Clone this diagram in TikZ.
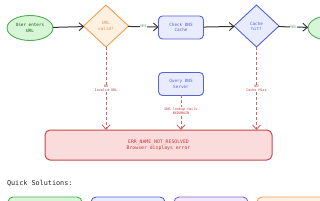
\documentclass[tikz,border=0pt]{standalone}
\usepackage{fontspec}
\setmainfont{DejaVu Sans Mono}
\usetikzlibrary{shapes.geometric,arrows.meta}
\definecolor{gstroke}{HTML}{4CAF50}
\definecolor{gfill}{HTML}{D8F5D8}
\definecolor{ostroke}{HTML}{F0A050}
\definecolor{ofill}{HTML}{FFF1E2}
\definecolor{bstroke}{HTML}{5563D6}
\definecolor{bfill}{HTML}{E9ECFF}
\definecolor{rstroke}{HTML}{C94848}
\definecolor{rfill}{HTML}{FADCDC}
\definecolor{rtext}{HTML}{C03A3A}
\definecolor{pstroke}{HTML}{8A63D2}
\definecolor{pfill}{HTML}{F1EAFF}
\definecolor{arr}{HTML}{333333}
\begin{document}
\begin{tikzpicture}[x=1pt,y=-1pt,
  every node/.style={inner sep=0pt,outer sep=0pt,align=center},
  txt/.style={font=\fontsize{4.3}{5.2}\selectfont},
  startnode/.style={ellipse,draw=gstroke,fill=gfill,line width=0.9pt,minimum width=46pt,minimum height=25pt,txt,text=green!40!black},
  decision/.style={diamond,draw=ostroke,fill=ofill,line width=0.9pt,minimum width=45pt,minimum height=42pt,txt,text=ostroke!90!black},
  bdecision/.style={decision,draw=bstroke,fill=bfill,text=bstroke},
  procbox/.style={rectangle,rounded corners=4pt,draw=bstroke,fill=bfill,line width=0.9pt,minimum width=45pt,minimum height=23pt,txt,text=bstroke},
  errbox/.style={rectangle,rounded corners=5pt,draw=rstroke,fill=rfill,line width=1pt,minimum width=227pt,minimum height=30pt,font=\fontsize{4.8}{6}\selectfont,text=rtext},
  solbox/.style={rectangle,rounded corners=5pt,line width=0.9pt,minimum width=74pt,minimum height=20pt},
  flow/.style={draw=arr,line width=1pt,-{Straight Barb[length=4.5pt,width=8pt,line width=0.9pt]}},
  noflow/.style={draw=rstroke!85!white,line width=0.9pt,dashed,dash pattern=on 3pt off 2pt,-{Straight Barb[length=4.5pt,width=8pt,line width=0.9pt]}},
  lbl/.style={font=\fontsize{3.4}{4}\selectfont,fill=white,inner sep=0.6pt},
]
\useasboundingbox (0,0) rectangle (320,200);
\fill[white] (0,0) rectangle (320,200);

\node[startnode] (start) at (30,28) {User enters\\URL};
\node[decision] (valid) at (106,26) {URL\\valid?};
\node[procbox] (check) at (181,27.5) {Check DNS\\Cache};
\node[bdecision] (hit) at (256.5,26) {Cache\\hit?};
\node[startnode] (resolve) at (331,28) {};
\node[procbox] (query) at (181,84) {Query DNS\\Server};
\node[errbox] (err) at (158.5,145) {ERR\_NAME\_NOT\_RESOLVED\\Browser displays error};

\draw[flow] (start) -- (valid);
\draw[flow] (valid) -- node[lbl,text=gstroke!80!black]{YES} (check);
\draw[flow] (check) -- (hit);
\draw[flow] (hit) -- node[lbl,text=gstroke!80!black]{YES} (resolve);

\draw[noflow] (valid.south) -- node[lbl,text=rtext,pos=0.5]{NO\\Invalid URL} (valid.south |- err.north);
\draw[noflow] (hit.south) -- node[lbl,text=rtext,pos=0.5]{NO\\Cache Miss} (hit.south |- err.north);
\draw[noflow] (query.south) -- node[lbl,text=rtext,pos=0.45]{DNS lookup fails\\NXDOMAIN} (query.south |- err.north);

\node[anchor=west,font=\fontsize{6.8}{8}\selectfont,text=black!85] (qs) at (7,183) {Quick Solutions:};

\node[solbox,draw=gstroke,fill=gfill,anchor=north west] (s1) at (8,197) {};
\node[solbox,draw=bstroke,fill=bfill,anchor=north west] (s2) at (91,197) {};
\node[solbox,draw=pstroke,fill=pfill,anchor=north west] (s3) at (174,197) {};
\node[solbox,draw=ostroke,fill=ofill,anchor=north west] (s4) at (257,197) {};
\end{tikzpicture}
\end{document}
